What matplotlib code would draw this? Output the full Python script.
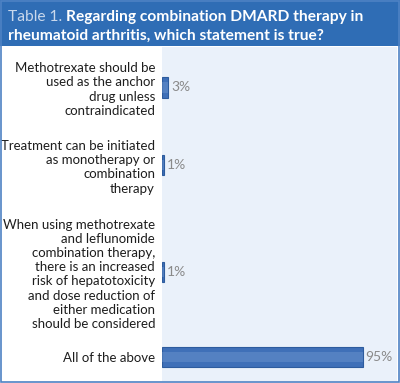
import matplotlib
matplotlib.use("Agg")
import matplotlib.pyplot as plt
from matplotlib.patches import Rectangle

categories = [
    "Methotrexate should be\nused as the anchor\ndrug unless\ncontraindicated",
    "Treatment can be initiated\nas monotherapy or\ncombination\ntherapy",
    "When using methotrexate\nand leflunomide\ncombination therapy,\nthere is an increased\nrisk of hepatotoxicity\nand dose reduction of\neither medication\nshould be considered",
    "All of the above",
]
values = [3, 1, 1, 95]
value_labels = ["3%", "1%", "1%", "95%"]
title_prefix = "Table 1."
title_main_1 = "Regarding combination DMARD therapy in"
title_main_2 = "rheumatoid arthritis, which statement is true?"

FONT = "Lato"
W, H = 400, 383
fig = plt.figure(figsize=(W / 100, H / 100), dpi=100)
fig.patch.set_facecolor("white")

def fx(px):
    return px / W

def fy(py):
    return 1 - py / H

# header band
fig.patches.append(Rectangle((0, fy(46)), 1, 46 / H, transform=fig.transFigure,
                             facecolor="#2F6DB5", edgecolor="none", zorder=0))
# outer border
fig.patches.append(Rectangle((fx(1), fy(381.5)), fx(397.5), (381.5 - 1) / H, transform=fig.transFigure,
                             facecolor="none", edgecolor="#4E82C4", lw=1.2, zorder=5))

# title
renderer = fig.canvas.get_renderer()
TS = 11.2
t1 = fig.text(fx(8), fy(21), title_prefix + " ", color="#C9D8EC", fontsize=TS,
              family=FONT, va="baseline", ha="left")
bb = t1.get_window_extent(renderer)
fig.text(bb.x1 / W, fy(21), title_main_1, color="white", fontsize=TS, family=FONT,
         fontweight="bold", va="baseline", ha="left")
fig.text(fx(8), fy(39.5), title_main_2, color="white", fontsize=TS, family=FONT,
         fontweight="bold", va="baseline", ha="left")

# row positions (in text-line units) derived from the number of label lines
gap = 1.28
nlines = [c.count("\n") + 1 for c in categories]
centers = []
pos = 0.0
for i, n in enumerate(nlines):
    if i == 0:
        pos = n / 2
    else:
        pos += nlines[i - 1] / 2 + gap + n / 2
    centers.append(pos)

ax_left, ax_right, ax_top, ax_bot = 162, 397, 47, 381
ax = fig.add_axes([fx(ax_left), fy(ax_bot), (ax_right - ax_left) / W, (ax_bot - ax_top) / H])
ax.set_facecolor("#EAF1FA")
line_px = 14.7
ymin = centers[0] - (87.5 - ax_top) / line_px
ymax = ymin + (ax_bot - ax_top) / line_px
ax.set_ylim(ymax, ymin)
ax.set_xlim(0, 111)

ax.barh(centers, values, height=1.38, color="#3F70B8", edgecolor="#2D5C9E", linewidth=0.8, zorder=2)
ax.barh(centers, values, height=0.7, color="#6E97CF", edgecolor="none", zorder=3, alpha=0.45)
for c, v, lab in zip(centers, values, value_labels):
    ax.text(v + 1.2, c, lab, va="center", ha="left", fontsize=10, color="#8A8A8A", family=FONT)

ax.set_yticks(centers)
ax.set_yticklabels(categories, fontsize=9.5, family=FONT, color="#1E1E1E",
                   linespacing=1.22, ha="right")
ax.tick_params(axis="y", length=0, pad=5)
ax.set_xticks([])
for s in ax.spines.values():
    s.set_visible(False)

fig.savefig("out.png", dpi=100, facecolor="white")
